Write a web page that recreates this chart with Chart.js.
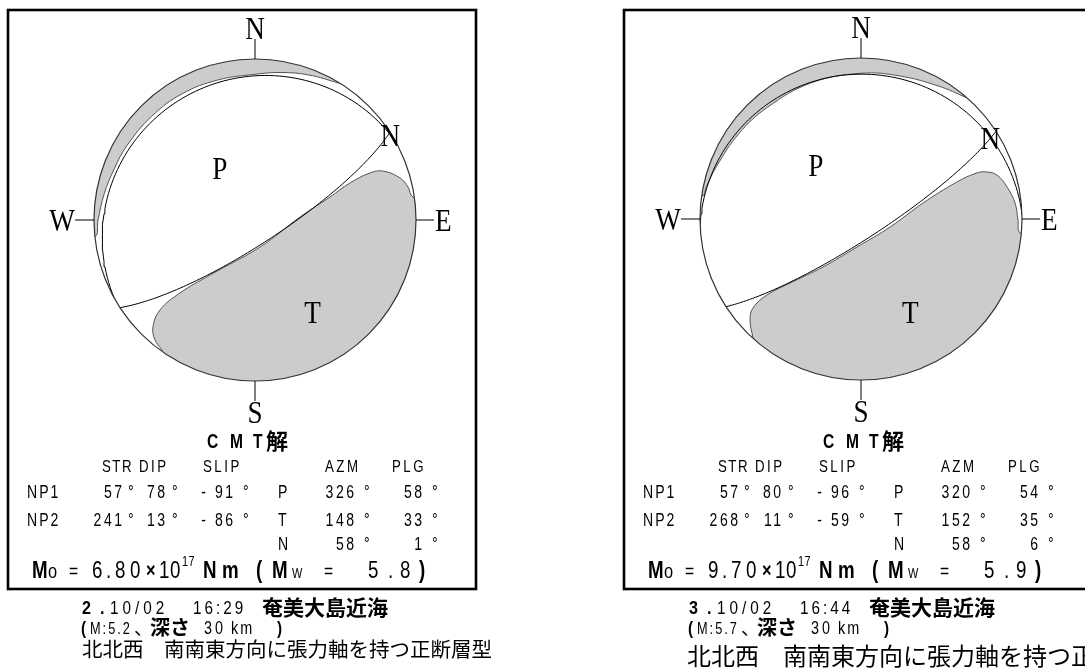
<!DOCTYPE html>
<html>
<head>
<meta charset="utf-8">
<script src="https://cdn.jsdelivr.net/npm/chart.js@4.4.1/dist/chart.umd.min.js"></script>
<style>
html, body { margin: 0; padding: 0; background: #fff; overflow: hidden; }
#wrap { position: relative; width: 1085px; height: 671px; }
.box { position: absolute; top: 0; height: 671px; }
</style>
</head>
<body>
<div id="wrap">
  <div class="box" style="left:0;width:560px"><canvas id="c0"></canvas></div>
  <div class="box" style="left:545px;width:540px"><canvas id="c1"></canvas></div>
</div>
<script>
// donnees des deux seismes (CMT)
var quakeNo = ['2', '3'];
var quakeDate = ['10/02', '10/02'];
var quakeTime = ['16:29', '16:44'];
var region = ['奄美大島近海', '奄美大島近海'];
var magJMA = ['5.2', '5.7'];
var depthKm = ['30', '30'];
var np1Str = [57, 57], np1Dip = [78, 80], np1Slip = [-91, -96];
var np2Str = [241, 268], np2Dip = [13, 11], np2Slip = [-86, -59];
var pAzm = [326, 320], pPlg = [58, 54];
var tAzm = [148, 152], tPlg = [33, 35];
var nAzm = [58, 58], nPlg = [1, 6];
var moMant = ['6.80', '9.70'], moExp = ['17', '17'];
var mw = ['5.8', '5.9'];
var comment = ['北北西　南南東方向に張力軸を持つ正断層型', '北北西　南南東方向に張力軸を持つ正断層型'];

// contours des zones grisees (rayon du cercle = 1)
var lobeT = [
  [[-0.578,-0.807],[-0.621,-0.745],[-0.634,-0.665],[-0.590,-0.559],[-0.466,-0.453],[-0.280,-0.342],
   [0.031,-0.168],[0.280,0.019],[0.466,0.143],[0.590,0.230],[0.714,0.292],[0.795,0.304],
   [0.901,0.261],[0.950,0.205],[0.981,0.143],[1.12,0.1],[1.15,-1.15],[-0.45,-1.1],[-0.578,-0.807]],
  [[-0.671,-0.739],[-0.689,-0.627],[-0.671,-0.553],[-0.584,-0.472],[-0.441,-0.398],[-0.236,-0.298],
   [-0.025,-0.174],[0.18,-0.05],[0.385,0.099],[0.596,0.230],[0.720,0.286],[0.783,0.292],
   [0.845,0.273],[0.907,0.199],[0.957,0.099],[0.975,-0.006],[0.988,-0.087],[1.12,-0.15],
   [1.15,-1.15],[-0.5,-1.12],[-0.671,-0.739]]
];
var crescent = [
  [[0.530,0.848],[0.328,0.902],[0.161,0.916],[0,0.905],[-0.233,0.869],[-0.4525,0.784],[-0.643,0.643],
   [-0.797,0.46],[-0.874,0.318],[-0.936,0.165],[-0.975,0],[-0.995,-0.105],[-1.15,-0.1],[-1.15,1.15],
   [0.75,1.1],[0.72,0.78],[0.530,0.848]],
  [[0.658,0.753],[0.478,0.827],[0.238,0.889],[0,0.905],[-0.308,0.846],[-0.582,0.693],[-0.758,0.531],
   [-0.897,0.327],[-0.959,0.204],[-0.990,0.139],[-1.15,0.14],[-1.15,1.15],[0.8,1.05],[0.82,0.7],
   [0.658,0.753]]
];

var D = Math.PI / 180;

// projection equivalente, hemisphere inferieur
function proj(az, plg) {
  var r = Math.SQRT2 * Math.sin((90 - plg) * D / 2);
  return { x: r * Math.sin(az * D), y: r * Math.cos(az * D) };
}

function nodalPlane(str, dip) {
  var pts = [];
  var dd = (str + 90) * D;
  for (var k = 0; k <= 180; k += 2) {
    var l = k * D;
    var vn = Math.cos(l) * Math.cos(str * D) + Math.sin(l) * Math.cos(dd) * Math.cos(dip * D);
    var ve = Math.cos(l) * Math.sin(str * D) + Math.sin(l) * Math.sin(dd) * Math.cos(dip * D);
    var vd = Math.sin(l) * Math.sin(dip * D);
    pts.push(proj(Math.atan2(ve, vn) / D, Math.asin(Math.min(1, vd)) / D));
  }
  return pts;
}

function toXY(arr) {
  return arr.map(function (p) { return { x: p[0], y: p[1] }; });
}

var SANS = "'Liberation Sans', Arial, sans-serif";
var JP = "'Noto Sans CJK JP', sans-serif";
var SERIF = "'Liberation Serif', serif";

// texte avec compression horizontale sx et interlettrage ls (en px ecran)
function put(ctx, s, x, y, font, ls, align, sx) {
  sx = sx || 1;
  ls = ls || 0;
  ctx.save();
  ctx.font = font;
  ctx.letterSpacing = (ls / sx) + 'px';
  ctx.textAlign = align || 'left';
  ctx.translate(align === 'right' ? x + ls : x, y);
  ctx.scale(sx, 1);
  ctx.fillText(s, 0, 0);
  ctx.restore();
}
// police etroite du tableau
function nar(ctx, s, x, y, size, bold, ls, align) {
  put(ctx, s, x, y, (bold ? 'bold ' : '') + size + 'px ' + SANS, ls, align, 0.78);
}

function makePanel(i, canvasId, left, cx, cy, frame, tx, bx, descX, descSize, descY) {
  var W = i === 0 ? 560 : 540;
  var R = 161, span = 1.2;
  var padL = cx - left - R * span, padT = cy - R * span;

  var ballPlugin = {
    id: 'ball' + i,
    beforeDatasetsDraw: function (chart) {
      var xs = chart.scales.x, ys = chart.scales.y;
      var c0 = xs.getPixelForValue(0), c1 = ys.getPixelForValue(0);
      var rr = xs.getPixelForValue(1) - c0;
      chart.ctx.save();
      chart.ctx.beginPath();
      chart.ctx.arc(c0, c1, rr, 0, 2 * Math.PI);
      chart.ctx.clip();
    },
    afterDatasetsDraw: function (chart) {
      chart.ctx.restore();
    },
    afterDraw: function (chart) {
      var ctx = chart.ctx;
      var xs = chart.scales.x, ys = chart.scales.y;
      var c0 = xs.getPixelForValue(0), c1 = ys.getPixelForValue(0);
      var rr = xs.getPixelForValue(1) - c0;
      ctx.save();
      // cercle et reperes
      ctx.strokeStyle = '#333';
      ctx.lineWidth = 1.2;
      ctx.beginPath();
      ctx.arc(c0, c1, rr, 0, 2 * Math.PI);
      ctx.stroke();
      ctx.strokeStyle = '#000';
      ctx.lineWidth = 1;
      ctx.beginPath();
      ctx.moveTo(c0, c1 - rr); ctx.lineTo(c0, c1 - rr - 20);
      ctx.moveTo(c0, c1 + rr); ctx.lineTo(c0, c1 + rr + 20);
      ctx.moveTo(c0 - rr, c1); ctx.lineTo(c0 - rr - 19, c1);
      ctx.moveTo(c0 + rr, c1); ctx.lineTo(c0 + rr + 18, c1);
      ctx.stroke();
      ctx.fillStyle = '#000';
      var sf = '32px ' + SERIF;
      put(ctx, 'N', c0, c1 - rr - 20, sf, 0, 'center', 0.85);
      put(ctx, 'S', c0, c1 + rr + 42, sf, 0, 'center', 0.85);
      put(ctx, 'W', c0 - rr - 19, c1 + 11, sf, 0, 'right', 0.85);
      put(ctx, 'E', c0 + rr + 19, c1 + 11, sf, 0, 'left', 0.85);
      // axes P, T, N
      var ax = [['P', pAzm[i], pPlg[i]], ['T', tAzm[i], tPlg[i]], ['N', nAzm[i], nPlg[i]]];
      ax.forEach(function (a) {
        var p = proj(a[1], a[2]);
        put(ctx, a[0], xs.getPixelForValue(p.x), ys.getPixelForValue(p.y) + 11, sf, 0, 'center', 0.85);
      });

      // cadre
      ctx.lineWidth = 2.6;
      ctx.strokeStyle = '#000';
      ctx.strokeRect(frame[0] - left, frame[1], frame[2] - frame[0], frame[3] - frame[1]);

      // tableau
      var o = tx - left;
      nar(ctx, 'C', o + 207, 448, 20, true);
      nar(ctx, 'M', o + 230, 448, 20, true);
      nar(ctx, 'T', o + 253, 448, 20, true);
      put(ctx, '解', o + 266, 449, 'bold 22px ' + JP);
      nar(ctx, 'STR', o + 102, 472, 17, false, 1.5);
      nar(ctx, 'DIP', o + 139, 472, 17, false, 2.5);
      nar(ctx, 'SLIP', o + 203, 472, 17, false, 2.5);
      nar(ctx, 'AZM', o + 325, 472, 17, false, 2.5);
      nar(ctx, 'PLG', o + 392, 472, 17, false, 2.5);
      var rows = [
        ['NP1', np1Str[i], np1Dip[i], np1Slip[i], 498],
        ['NP2', np2Str[i], np2Dip[i], np2Slip[i], 526]
      ];
      rows.forEach(function (r) {
        nar(ctx, r[0], o + 27, r[4], 18, false, 2);
        nar(ctx, String(r[1]), o + 122, r[4], 18, false, 2.5, 'right');
        nar(ctx, '°', o + 128, r[4], 18);
        nar(ctx, String(r[2]), o + 165, r[4], 18, false, 2.5, 'right');
        nar(ctx, '°', o + 172, r[4], 18);
        nar(ctx, String(r[3]).replace('-', '- '), o + 233, r[4], 18, false, 2.5, 'right');
        nar(ctx, '°', o + 243, r[4], 18);
      });
      var axRows = [['P', pAzm[i], pPlg[i], 498], ['T', tAzm[i], tPlg[i], 526], ['N', nAzm[i], nPlg[i], 550]];
      axRows.forEach(function (r) {
        nar(ctx, r[0], o + 278, r[3], 18);
        nar(ctx, String(r[1]), o + 354, r[3], 18, false, 2.5, 'right');
        nar(ctx, '°', o + 364, r[3], 18);
        nar(ctx, String(r[2]), o + 422, r[3], 18, false, 2.5, 'right');
        nar(ctx, '°', o + 432, r[3], 18);
      });
      // moment sismique
      var y = 578;
      nar(ctx, 'M', o + 32, y, 24, true);
      nar(ctx, 'o', o + 48, y, 21);
      nar(ctx, '=', o + 69, y, 20);
      var mx = [92, 106, 115, 130];
      for (var k = 0; k < moMant[i].length; k++) nar(ctx, moMant[i][k], o + mx[k], y, 24);
      nar(ctx, '×', o + 146, y - 1, 21, true);
      nar(ctx, '1', o + 159, y, 24);
      nar(ctx, '0', o + 170, y, 24);
      nar(ctx, moExp[i], o + 182, y - 12, 14, false, 0.5);
      nar(ctx, 'N', o + 203, y, 24, true);
      nar(ctx, 'm', o + 222, y, 24, true);
      nar(ctx, '(', o + 256, y, 24, true);
      nar(ctx, 'M', o + 272, y, 24, true);
      nar(ctx, 'W', o + 292, y, 14);
      nar(ctx, '=', o + 324, y, 20);
      var wx = [368, 388, 400];
      for (k = 0; k < mw[i].length; k++) nar(ctx, mw[i][k], o + wx[k], y, 24);
      nar(ctx, ')', o + 419, y, 24, true);

      // legende sous le cadre
      var q = bx - left;
      put(ctx, quakeNo[i], q + 82, 614, 'bold 19px ' + SANS, 0, 'left', 0.85);
      put(ctx, '.', q + 100, 614, 'bold 19px ' + SANS, 0, 'left', 0.85);
      put(ctx, quakeDate[i], q + 110, 614, '18px ' + SANS, 4, 'left', 0.85);
      put(ctx, quakeTime[i], q + 193, 614, '18px ' + SANS, 3, 'left', 0.85);
      put(ctx, region[i], q + 262, 615, 'bold 21px ' + JP);
      put(ctx, '(', q + 81, 634, 'bold 18px ' + SANS, 0, 'left', 0.85);
      put(ctx, 'M:' + magJMA[i], q + 90, 634, '17px ' + SANS, 2, 'left', 0.75);
      put(ctx, '、', q + 134, 635, '19px ' + JP);
      put(ctx, '深さ', q + 150, 635, 'bold 20px ' + JP);
      put(ctx, depthKm[i], q + 204, 634, '18px ' + SANS, 3, 'left', 0.8);
      put(ctx, 'km', q + 231, 634, '18px ' + SANS, 2, 'left', 0.8);
      put(ctx, ')', q + 277, 634, 'bold 18px ' + SANS, 0, 'left', 0.85);
      put(ctx, comment[i], descX - left, descY, descSize + 'px ' + JP);
      ctx.restore();
    }
  };

  return new Chart(document.getElementById(canvasId), {
    type: 'scatter',
    data: {
      datasets: [
        { label: 'NP1', data: nodalPlane(np1Str[i], np1Dip[i]), showLine: true, borderColor: '#000',
          borderWidth: 1, pointRadius: 0, tension: 0, order: 1 },
        { label: 'NP2', data: nodalPlane(np2Str[i], np2Dip[i]), showLine: true, borderColor: '#000',
          borderWidth: 1, pointRadius: 0, tension: 0, order: 1 },
        { label: 'T', data: toXY(lobeT[i]), showLine: true, fill: 'shape', backgroundColor: '#cccccc',
          borderColor: '#555', borderWidth: 1, pointRadius: 0, tension: 0.4, order: 2 },
        { label: 'T2', data: toXY(crescent[i]), showLine: true, fill: 'shape', backgroundColor: '#cccccc',
          borderColor: '#555', borderWidth: 1, pointRadius: 0, tension: 0.4, order: 2 }
      ]
    },
    options: {
      responsive: true,
      maintainAspectRatio: false,
      animation: false,
      events: [],
      layout: { padding: { left: padL, top: padT, right: W - padL - 2 * R * span, bottom: 671 - padT - 2 * R * span } },
      scales: {
        x: { type: 'linear', min: -span, max: span, display: false },
        y: { type: 'linear', min: -span, max: span, display: false }
      },
      plugins: { legend: { display: false }, tooltip: { enabled: false } }
    },
    plugins: [ballPlugin]
  });
}

makePanel(0, 'c0', 0, 255, 220, [8, 10, 476, 589], 0, 0, 82, 20.5, 657);
makePanel(1, 'c1', 545, 861, 219, [624, 10, 1200, 589], 616, 607, 687, 24, 665);
</script>
</body>
</html>
